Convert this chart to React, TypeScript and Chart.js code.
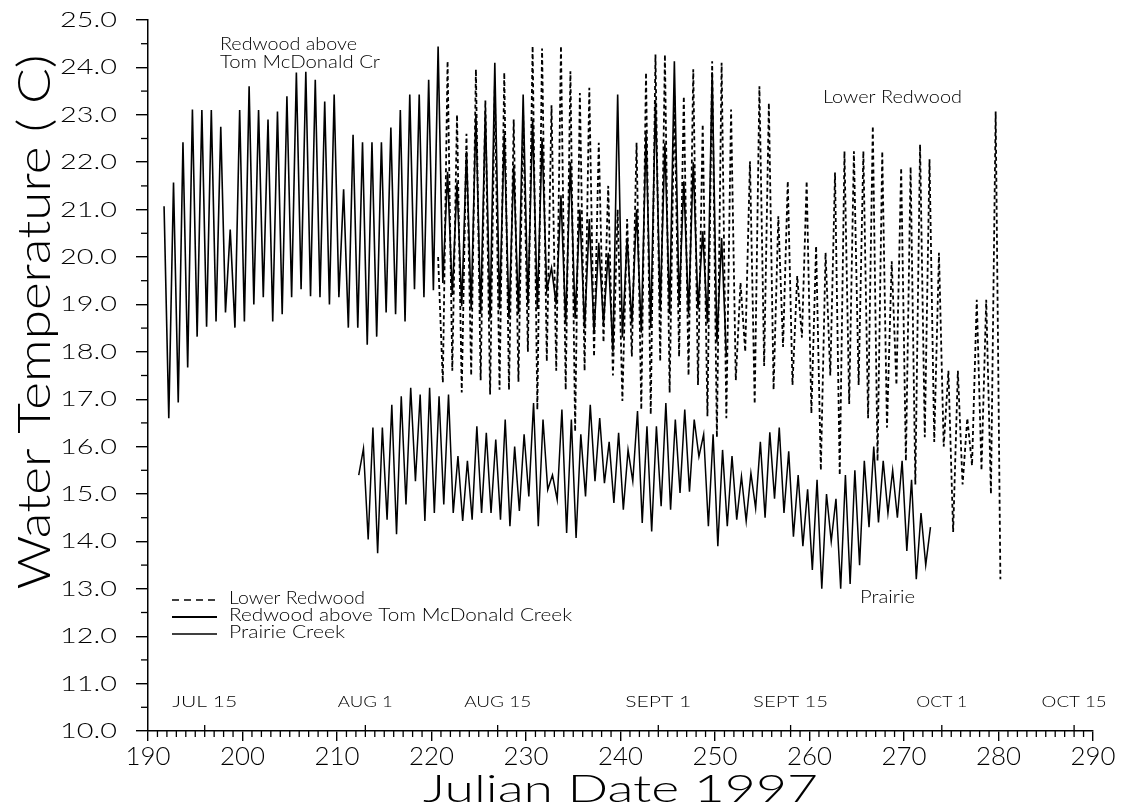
import React, { useEffect, useRef } from 'react';
import { Chart, registerables } from 'chart.js';

Chart.register(...registerables);

// ---- data (half-day readings, alternating daily trough / peak) ----
const seriesNames = ['Lower Redwood', 'Redwood above Tom McDonald Creek', 'Prairie Creek'];

const lowerRedwoodStart = 220.7;
const lowerRedwoodTemps = [
  20.0,
  17.35, 24.13, 17.6, 23.0, 17.14, 22.6, 17.5, 23.96, 17.4, 23.3,
  17.1, 23.6, 17.2, 23.89, 17.2, 22.9, 17.37, 23.0, 18.0, 24.45,
  16.78, 24.4, 17.8, 23.2, 17.6, 24.45, 17.2, 23.92, 16.32, 23.46,
  17.6, 23.57, 17.9, 22.41, 18.2, 21.5, 17.5, 21.0, 16.96, 20.8,
  17.9, 22.41, 16.78, 23.89, 16.68, 24.27, 17.8, 24.27, 17.14, 23.4,
  17.9, 23.39, 17.5, 23.96, 17.3, 22.8, 16.64, 24.13, 16.2, 24.1,
  16.6, 23.11, 17.4, 19.46, 18.0, 22.02, 16.9, 23.6, 17.7, 23.25,
  17.2, 20.86, 18.1, 21.6, 17.3, 19.6, 18.3, 21.6, 16.7, 20.23,
  15.5, 20.09, 17.5, 21.78, 15.4, 22.23, 16.9, 22.23, 17.3, 22.23,
  16.6, 22.76, 15.7, 22.23, 16.4, 19.91, 17.3, 21.88, 15.7, 21.9,
  15.2, 22.37, 16.2, 22.06, 16.1, 20.09, 16.0, 17.6, 14.2, 17.6,
  15.2, 16.6, 15.6, 19.1, 15.5, 19.1, 15.0, 23.07, 13.2,
];

const redwoodTmcStart = 191.7;
const redwoodTmcTemps = [
  21.07,
  16.6, 21.57, 16.93, 22.42, 17.67, 23.11, 18.32, 23.1, 18.53, 23.1,
  18.64, 22.75, 18.83, 20.58, 18.51, 23.1, 18.64, 23.6, 19.0, 23.1,
  19.15, 22.9, 18.64, 23.07, 18.79, 23.39, 19.15, 23.89, 19.32, 23.91,
  19.17, 23.74, 19.15, 23.28, 19.0, 23.43, 19.15, 21.43, 18.51, 22.58,
  18.51, 22.42, 18.15, 22.42, 18.32, 22.42, 18.83, 22.73, 18.79, 23.1,
  18.64, 23.43, 19.32, 23.43, 19.15, 23.74, 19.3, 24.44, 19.45, 21.8,
  19.2, 21.57, 18.96, 22.23, 18.9, 23.0, 18.8, 23.08, 18.7, 24.1,
  18.9, 22.6, 18.7, 21.92, 18.8, 23.43, 19.0, 22.9, 18.9, 22.5,
  19.3, 19.77, 19.0, 21.3, 18.6, 22.0, 18.7, 21.0, 18.5, 20.8,
  18.4, 20.3, 18.6, 20.09, 18.0, 23.43, 18.3, 20.4, 18.6, 21.0,
  18.4, 22.6, 18.5, 23.3, 18.9, 22.4, 18.8, 24.13, 19.0, 21.6,
  18.8, 22.0, 18.9, 20.54, 18.6, 23.9, 18.2, 20.4, 17.9,
];

const prairieStart = 212.3;
const prairieTemps = [
  15.4, 15.96,
  14.04, 16.4, 13.75, 16.4, 14.46, 16.88, 14.15, 17.06, 14.78, 17.24,
  15.27, 17.1, 14.43, 17.24, 14.6, 17.06, 14.78, 17.1, 14.6, 15.8,
  14.43, 15.7, 14.46, 16.43, 14.6, 16.29, 14.6, 16.15, 14.46, 16.57,
  14.32, 16.0, 14.64, 16.26, 14.95, 16.92, 14.32, 16.57, 15.09, 15.4,
  14.88, 16.78, 14.18, 16.57, 14.07, 16.26, 14.95, 16.88, 15.27, 16.6,
  15.23, 16.1, 14.81, 16.29, 14.67, 15.93, 15.27, 16.75, 14.39, 16.43,
  14.21, 16.43, 14.74, 16.92, 14.67, 16.57, 15.02, 16.78, 15.05, 16.57,
  15.79, 16.26, 14.32, 16.26, 13.9, 15.93, 14.32, 15.8, 14.46, 15.37,
  14.43, 15.44, 14.7, 16.1, 14.5, 16.3, 14.9, 16.4, 14.6, 15.9,
  14.1, 15.4, 13.9, 15.1, 13.4, 15.3, 13.0, 15.0, 14.0, 14.9,
  13.0, 15.4, 13.1, 15.5, 13.5, 15.7, 14.3, 16.0, 14.4, 15.7,
  14.6, 15.5, 14.5, 15.7, 13.8, 15.3, 13.2, 14.6, 13.5, 14.3,
];

const dateLabels = ['JUL 15', 'AUG 1', 'AUG 15', 'SEPT 1', 'SEPT 15', 'OCT 1', 'OCT 15'];
const dateDays = [196, 213, 227, 244, 258, 274, 288];
const dateLabelWidths = [65, 55, 67, 66, 75, 51, 65];

const xTitle = 'Julian Date 1997';
const yTitle = 'Water Temperature ( C)';

const FONT = 'Lato, "Open Sans", "DejaVu Sans", sans-serif';

function toPoints(start: number, temps: number[]) {
  return temps.map((v, i) => ({ x: start + i * 0.5, y: v }));
}

function fitText(
  ctx: CanvasRenderingContext2D,
  text: string,
  x: number,
  y: number,
  size: number,
  width: number,
  align: CanvasTextAlign,
  rotate = 0,
  baseline: CanvasTextBaseline = 'middle'
) {
  ctx.save();
  ctx.font = `300 ${size}px ${FONT}`;
  const w = ctx.measureText(text).width || 1;
  ctx.translate(x, y);
  if (rotate) ctx.rotate(rotate);
  ctx.scale(width / w, 1);
  ctx.textAlign = align;
  ctx.textBaseline = baseline;
  ctx.fillStyle = '#000';
  ctx.fillText(text, 0, 0);
  ctx.restore();
}

const decorPlugin = {
  id: 'decor',
  afterDraw(chart: any) {
    const ctx: CanvasRenderingContext2D = chart.ctx;
    const xs = chart.scales.x;
    const ys = chart.scales.y;
    const area = chart.chartArea;
    ctx.save();
    ctx.strokeStyle = '#000';
    ctx.lineWidth = 1.3;

    // y minor ticks
    for (let v = ys.min + 0.5; v < ys.max; v += 1) {
      const y = ys.getPixelForValue(v);
      ctx.beginPath();
      ctx.moveTo(area.left - 7, y);
      ctx.lineTo(area.left, y);
      ctx.stroke();
    }
    // x minor ticks (daily)
    for (let d = xs.min + 1; d < xs.max; d += 1) {
      if (d % 10 === 0) continue;
      const x = xs.getPixelForValue(d);
      ctx.beginPath();
      ctx.moveTo(x, area.bottom);
      ctx.lineTo(x, area.bottom + 6);
      ctx.stroke();
    }
    // date ticks (upward) and labels
    dateDays.forEach((d, i) => {
      const x = xs.getPixelForValue(d);
      ctx.beginPath();
      ctx.moveTo(x, area.bottom);
      ctx.lineTo(x, area.bottom - 6);
      ctx.stroke();
      fitText(ctx, dateLabels[i], x, area.bottom - 29, 16, dateLabelWidths[i], 'center');
    });

    // tick labels
    ys.ticks.forEach((t: any) => {
      const y = ys.getPixelForValue(t.value);
      fitText(ctx, Number(t.value).toFixed(1), area.left - 31, y, 22, 57, 'right');
    });
    xs.ticks.forEach((t: any) => {
      const x = xs.getPixelForValue(t.value);
      fitText(ctx, String(t.value), x, area.bottom + 26, 26, 45, 'center');
    });

    // axis titles
    fitText(ctx, xTitle, (area.left + area.right) / 2, 802, 37, 395, 'center', 0, 'alphabetic');
    fitText(ctx, yTitle, 35, 322, 46, 535, 'center', -Math.PI / 2);

    // in-plot annotations
    fitText(ctx, 'Redwood above', 220, 45, 17, 137, 'left');
    fitText(ctx, 'Tom McDonald Cr', 220, 63, 17, 160, 'left');
    fitText(ctx, 'Lower Redwood', 823, 98, 17, 139, 'left');
    fitText(ctx, 'Prairie', 860, 598, 17, 55, 'left');

    // legend
    const legendY = [600, 617, 634];
    const legendW = [136, 343, 116];
    const legendLw = [1.5, 2.2, 1.3];
    legendY.forEach((y, i) => {
      ctx.save();
      ctx.lineWidth = legendLw[i];
      ctx.setLineDash(i === 0 ? [7, 5] : []);
      ctx.beginPath();
      ctx.moveTo(172, y);
      ctx.lineTo(217, y);
      ctx.stroke();
      ctx.restore();
      fitText(ctx, seriesNames[i], 229, y - 1, 17, legendW[i], 'left');
    });
    ctx.restore();
  },
};

export default function App() {
  const ref = useRef<HTMLCanvasElement>(null);

  useEffect(() => {
    const canvas = ref.current;
    if (!canvas) return;
    const chart = new Chart(canvas, {
      type: 'line',
      data: {
        datasets: [
          {
            label: seriesNames[0],
            data: toPoints(lowerRedwoodStart, lowerRedwoodTemps),
            borderColor: '#000',
            borderWidth: 1.8,
            borderDash: [4, 3],
            pointRadius: 0,
            tension: 0,
          },
          {
            label: seriesNames[1],
            data: toPoints(redwoodTmcStart, redwoodTmcTemps),
            borderColor: '#000',
            borderWidth: 1.6,
            pointRadius: 0,
            tension: 0,
          },
          {
            label: seriesNames[2],
            data: toPoints(prairieStart, prairieTemps),
            borderColor: '#000',
            borderWidth: 1.5,
            pointRadius: 0,
            tension: 0,
          },
        ],
      },
      options: {
        responsive: false,
        animation: false,
        devicePixelRatio: 1,
        parsing: false as any,
        layout: { padding: { left: 0, top: 20, right: 31, bottom: 0 } },
        plugins: {
          legend: { display: false },
          tooltip: { enabled: false },
          title: { display: false },
        },
        scales: {
          x: {
            type: 'linear',
            min: 190,
            max: 290,
            afterFit: (s: any) => {
              s.height = 80;
            },
            ticks: { stepSize: 10, display: false, autoSkip: false },
            grid: {
              drawOnChartArea: false,
              drawTicks: true,
              tickLength: 10,
              color: '#000',
              tickColor: '#000',
              lineWidth: 1.4,
              tickWidth: 1.4,
            },
            border: { display: true, color: '#000', width: 1.5 },
          },
          y: {
            type: 'linear',
            min: 10,
            max: 25,
            afterFit: (s: any) => {
              s.width = 148;
            },
            ticks: { stepSize: 1, display: false },
            grid: {
              drawOnChartArea: false,
              drawTicks: true,
              tickLength: 12,
              color: '#000',
              tickColor: '#000',
              lineWidth: 1.4,
              tickWidth: 1.4,
            },
            border: { display: true, color: '#000', width: 1.5 },
          },
        },
      } as any,
      plugins: [decorPlugin],
    });
    return () => chart.destroy();
  }, []);

  return (
    <div style={{ position: 'fixed', left: 0, top: 0, width: 1124, height: 811, background: '#fff' }}>
      <canvas ref={ref} width={1124} height={811} style={{ display: 'block' }} />
    </div>
  );
}
